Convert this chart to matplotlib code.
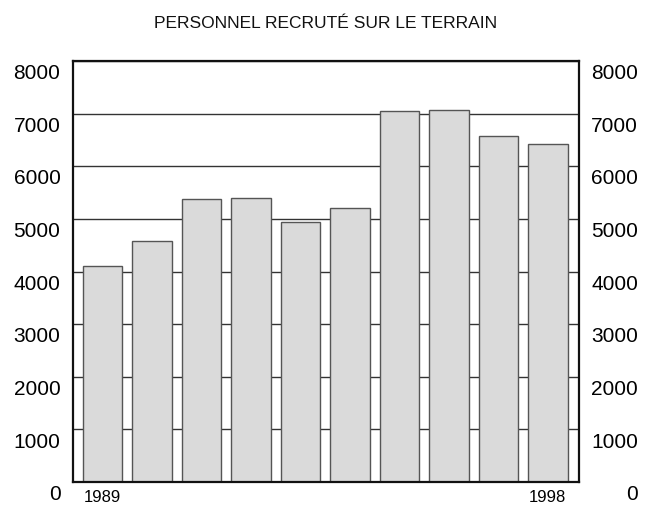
import matplotlib
matplotlib.use("Agg")
import matplotlib.pyplot as plt
import matplotlib.transforms as mtransforms

years = [1989, 1990, 1991, 1992, 1993, 1994, 1995, 1996, 1997, 1998]
personnel = [4100, 4580, 5370, 5400, 4940, 5200, 7050, 7060, 6570, 6430]
shown_years = {1989: "1989", 1998: "1998"}
y_ticks = [0, 1000, 2000, 3000, 4000, 5000, 6000, 7000, 8000]

plain = ["Liberation Sans", "DejaVu Sans"]

fig = plt.figure(figsize=(6.54, 5.10), dpi=100)
ax = fig.add_axes([73 / 654, 27 / 510, 506 / 654, 421 / 510])

x = list(range(len(years)))
ax.bar(x, personnel, width=0.8, color="#dadada", edgecolor="#555555",
       linewidth=1.0, zorder=2)

ax.set_xlim(-0.6, 9.63)
ax.set_ylim(0, 8000)

# horizontal rules behind the bars
ax.set_yticks(y_ticks)
ax.yaxis.grid(True, color="#333333", linewidth=1.0, zorder=0)
ax.set_axisbelow(True)

ax.set_xticks(x)
ax.set_xticklabels([shown_years.get(yr, "") for yr in years],
                   family=plain, fontsize=12)
ax.tick_params(axis="x", length=0, pad=5)

ax.tick_params(axis="y", length=0, labelsize=15, left=True, right=True,
               labelleft=True, labelright=True, pad=9)
for lab in ax.get_yticklabels():
    lab.set_family(plain)

# labels sit a little below their rules; right ones are right-aligned
shift = mtransforms.ScaledTranslation(0, -7 / 72, fig.dpi_scale_trans)
push = mtransforms.ScaledTranslation(33.5 / 72, 0, fig.dpi_scale_trans)
for tick in ax.yaxis.get_major_ticks():
    tick.label1.set_transform(tick.label1.get_transform() + shift)
    tick.label2.set_transform(tick.label2.get_transform() + shift + push)
    tick.label2.set_horizontalalignment("right")

for side in ax.spines.values():
    side.set_linewidth(1.6)
    side.set_color("#111111")

fig.text(0.5 * (73 + 579) / 654, 1 - 24 / 510, "PERSONNEL RECRUTÉ SUR LE TERRAIN",
         ha="center", va="center", fontsize=12.5, family=plain, color="#111111")

fig.savefig("out.png", dpi=100)
